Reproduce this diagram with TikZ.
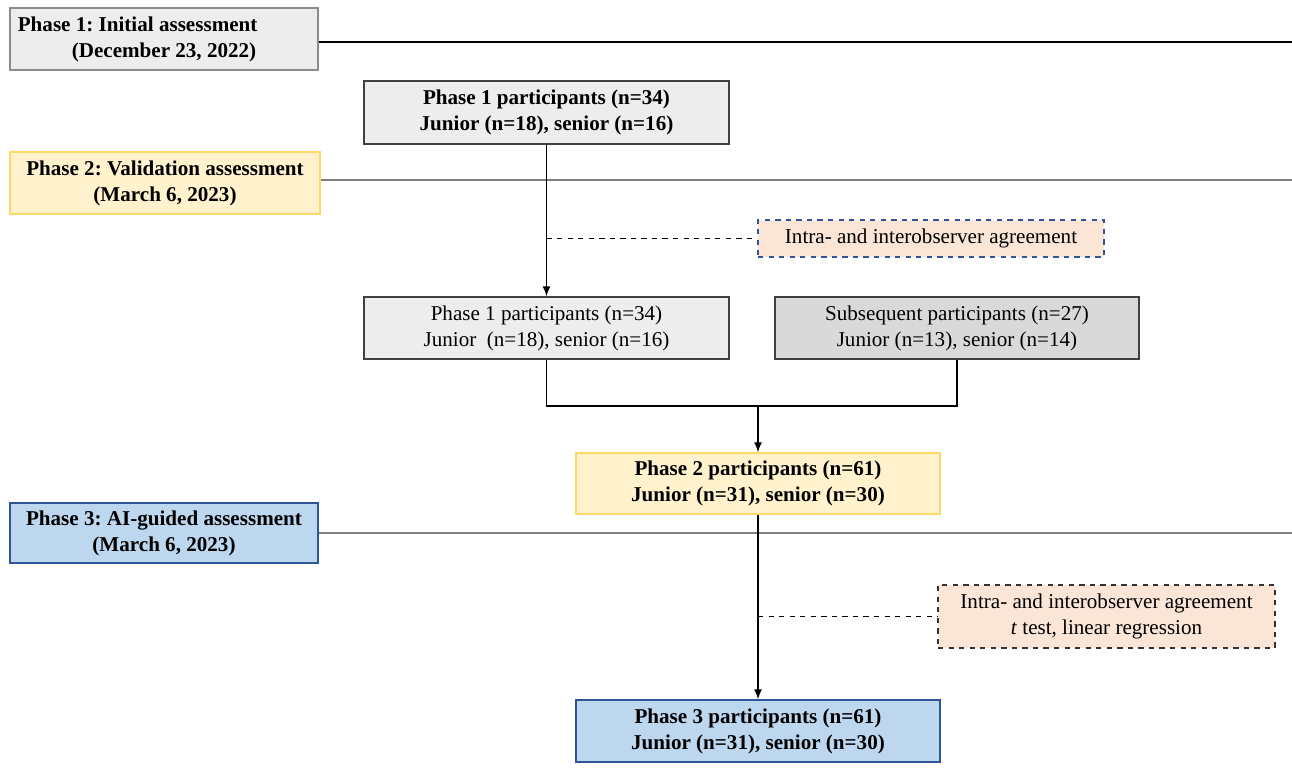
\documentclass[tikz,border=0pt]{standalone}
\usepackage{fontspec}
\setmainfont{Liberation Serif}
\usetikzlibrary{arrows.meta}
\frenchspacing

\definecolor{grayfill}{HTML}{EDEDED}
\definecolor{grayline}{HTML}{8C8C8C}
\definecolor{darkfill}{HTML}{D9D9D9}
\definecolor{yellowfill}{HTML}{FFF2CC}
\definecolor{yellowline}{HTML}{FFD966}
\definecolor{bluefill}{HTML}{BDD7EE}
\definecolor{blueline}{HTML}{2F5597}
\definecolor{peachfill}{HTML}{FBE5D6}
\definecolor{timeline}{HTML}{7F7F7F}

\begin{document}
\begin{tikzpicture}
    % Define the styles for the boxes and lines
    \tikzset{block/.style={rectangle, draw=black!75, line width=0.8pt, align=center, inner sep=2pt,
        font=\fontsize{12}{14.8}\selectfont, minimum width=7.3cm, minimum height=1.24cm}}
    \tikzset{boldblock/.style={block, font=\bfseries\fontsize{12}{14.8}\selectfont}}
    \tikzset{phase/.style={boldblock, minimum width=6.16cm}}
    \tikzset{note/.style={block, dashed, line width=0.7pt, fill=peachfill}}
    \tikzset{line/.style={draw, line width=0.8pt, -{Latex[length=2mm, width=1.6mm]}}}
    \tikzset{timeline/.style={draw=timeline, line width=0.9pt}}

    \useasboundingbox (0,0) rectangle (25.84,-15.68);

    % Phase labels on the left
    \node[phase, fill=grayfill, draw=grayline] (phaseone) at (3.28,-0.78)
        {Phase 1: Initial assessment\hspace*{2.5em}\\(December 23, 2022)};
    \node[phase, fill=yellowfill, draw=yellowline, minimum width=6.2cm] (phasetwo) at (3.30,-3.66)
        {Phase 2: Validation assessment\\(March 6, 2023)};
    \node[phase, fill=bluefill, draw=blueline, minimum height=1.2cm] (phasethree) at (3.28,-10.66)
        {Phase 3: AI-guided assessment\\(March 6, 2023)};

    % Time lines
    \draw[line width=0.8pt] (phaseone.east |- 0,-0.84) -- (25.84,-0.84);
    \draw[timeline] (phasetwo.east |- 0,-3.6) -- (25.84,-3.6);
    \draw[timeline] (phasethree.east |- 0,-10.66) -- (25.84,-10.66);

    % Participant boxes
    \node[boldblock, fill=grayfill, minimum height=1.26cm] (firstp) at (10.93,-2.25)
        {Phase 1 participants (n=34)\\Junior (n=18), senior (n=16)};
    \node[block, fill=grayfill] (firstq) at (10.93,-6.56)
        {Phase 1 participants (n=34)\\Junior~~(n=18), senior (n=16)};
    \node[block, fill=darkfill, minimum width=7.28cm] (subseq) at (19.14,-6.56)
        {Subsequent participants (n=27)\\Junior (n=13), senior (n=14)};
    \node[boldblock, fill=yellowfill, draw=yellowline, minimum width=7.28cm, minimum height=1.22cm] (secondp) at (15.16,-9.67)
        {Phase 2 participants (n=61)\\Junior (n=31), senior (n=30)};
    \node[boldblock, fill=bluefill, draw=blueline, minimum width=7.28cm] (thirdp) at (15.16,-14.62)
        {Phase 3 participants (n=61)\\Junior (n=31), senior (n=30)};

    % Analysis notes
    \node[note, draw=blueline, minimum width=6.92cm, minimum height=0.74cm] (agreeone) at (18.62,-4.77)
        {Intra- and interobserver agreement};
    \node[note, draw=black!80, minimum width=6.74cm, minimum height=1.26cm] (agreetwo) at (22.13,-12.33)
        {Intra- and interobserver agreement\\\textit{t} test, linear regression};

    % Connectors
    \coordinate (tapone) at (firstp.south |- agreeone.west);
    \coordinate (merge) at (secondp.north |- 0,-8.12);
    \coordinate (taptwo) at (secondp.south |- agreetwo.west);

    \draw[line] (firstp) -- (firstq);
    \draw[dashed, line width=0.6pt] (tapone) -- (agreeone);
    \draw[line width=0.8pt] (firstq.south) |- (merge) -| (subseq.south);
    \draw[line] (merge) -- (secondp);
    \draw[line] (secondp) -- (thirdp);
    \draw[dashed, line width=0.6pt] (taptwo) -- (agreetwo);

  \end{tikzpicture}
\end{document}
